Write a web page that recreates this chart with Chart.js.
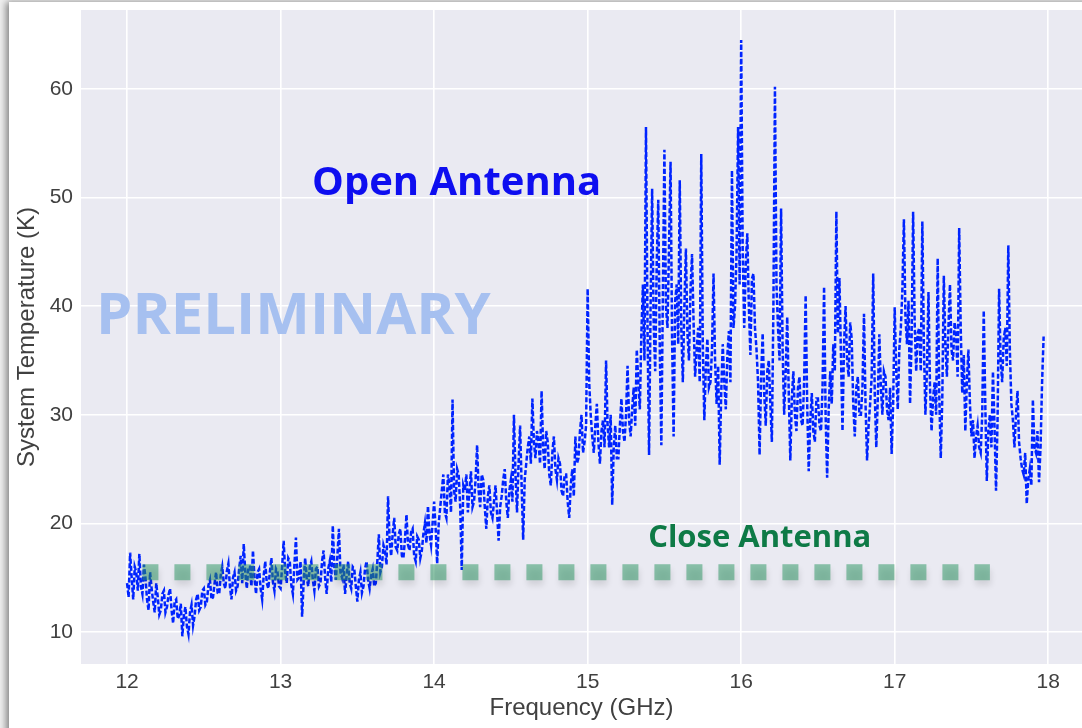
<!DOCTYPE html>
<html><head><meta charset="utf-8">
<script src="https://cdn.jsdelivr.net/npm/chart.js@4.4.1/dist/chart.umd.min.js"></script>
<style>
html,body{margin:0;padding:0;background:#f0f0f0;width:1082px;height:728px;overflow:hidden;}
#panel{position:absolute;left:9px;top:2px;width:1200px;height:800px;background:#fff;box-shadow:-3px 0 7px rgba(0,0,0,0.45);}
#c{position:absolute;left:0;top:0;}
</style></head><body><div id="panel"></div><canvas id="c" width="1082" height="728"></canvas>
<script>
// ---- data ----
const freqGHz = [
12.00,12.01,12.02,12.03,12.04,12.05,12.06,12.07,12.08,12.09,12.10,12.11,12.12,12.13,12.14,12.15,12.16,12.17,12.18,12.19,
12.20,12.21,12.22,12.23,12.24,12.25,12.26,12.27,12.28,12.29,12.30,12.31,12.32,12.33,12.34,12.35,12.36,12.37,12.38,12.39,
12.40,12.41,12.42,12.43,12.44,12.45,12.46,12.47,12.48,12.49,12.50,12.51,12.52,12.53,12.54,12.55,12.56,12.57,12.58,12.59,
12.60,12.61,12.62,12.63,12.64,12.65,12.66,12.67,12.68,12.69,12.70,12.71,12.72,12.73,12.74,12.75,12.76,12.77,12.78,12.79,
12.80,12.81,12.82,12.83,12.84,12.85,12.86,12.87,12.88,12.89,12.90,12.91,12.92,12.93,12.94,12.95,12.96,12.97,12.98,12.99,
13.00,13.01,13.02,13.03,13.04,13.05,13.06,13.07,13.08,13.09,13.10,13.11,13.12,13.13,13.14,13.15,13.16,13.17,13.18,13.19,
13.20,13.21,13.22,13.23,13.24,13.25,13.26,13.27,13.28,13.29,13.30,13.31,13.32,13.33,13.34,13.35,13.36,13.37,13.38,13.39,
13.40,13.41,13.42,13.43,13.44,13.45,13.46,13.47,13.48,13.49,13.50,13.51,13.52,13.53,13.54,13.55,13.56,13.57,13.58,13.59,
13.60,13.61,13.62,13.63,13.64,13.65,13.66,13.67,13.68,13.69,13.70,13.71,13.72,13.73,13.74,13.75,13.76,13.77,13.78,13.79,
13.80,13.81,13.82,13.83,13.84,13.85,13.86,13.87,13.88,13.89,13.90,13.91,13.92,13.93,13.94,13.95,13.96,13.97,13.98,13.99,
14.00,14.01,14.02,14.03,14.04,14.05,14.06,14.07,14.08,14.09,14.10,14.11,14.12,14.13,14.14,14.15,14.16,14.17,14.18,14.19,
14.20,14.21,14.22,14.23,14.24,14.25,14.26,14.27,14.28,14.29,14.30,14.31,14.32,14.33,14.34,14.35,14.36,14.37,14.38,14.39,
14.40,14.41,14.42,14.43,14.44,14.45,14.46,14.47,14.48,14.49,14.50,14.51,14.52,14.53,14.54,14.55,14.56,14.57,14.58,14.59,
14.60,14.61,14.62,14.63,14.64,14.65,14.66,14.67,14.68,14.69,14.70,14.71,14.72,14.73,14.74,14.75,14.76,14.77,14.78,14.79,
14.80,14.81,14.82,14.83,14.84,14.85,14.86,14.87,14.88,14.89,14.90,14.91,14.92,14.93,14.94,14.95,14.96,14.97,14.98,14.99,
15.00,15.01,15.02,15.03,15.04,15.05,15.06,15.07,15.08,15.09,15.10,15.11,15.12,15.13,15.14,15.15,15.16,15.17,15.18,15.19,
15.20,15.21,15.22,15.23,15.24,15.25,15.26,15.27,15.28,15.29,15.30,15.31,15.32,15.33,15.34,15.35,15.36,15.37,15.38,15.39,
15.40,15.41,15.42,15.43,15.44,15.45,15.46,15.47,15.48,15.49,15.50,15.51,15.52,15.53,15.54,15.55,15.56,15.57,15.58,15.59,
15.60,15.61,15.62,15.63,15.64,15.65,15.66,15.67,15.68,15.69,15.70,15.71,15.72,15.73,15.74,15.75,15.76,15.77,15.78,15.79,
15.80,15.81,15.82,15.83,15.84,15.85,15.86,15.87,15.88,15.89,15.90,15.91,15.92,15.93,15.94,15.95,15.96,15.97,15.98,15.99,
16.00,16.01,16.02,16.03,16.04,16.05,16.06,16.07,16.08,16.09,16.10,16.11,16.12,16.13,16.14,16.15,16.16,16.17,16.18,16.19,
16.20,16.21,16.22,16.23,16.24,16.25,16.26,16.27,16.28,16.29,16.30,16.31,16.32,16.33,16.34,16.35,16.36,16.37,16.38,16.39,
16.40,16.41,16.42,16.43,16.44,16.45,16.46,16.47,16.48,16.49,16.50,16.51,16.52,16.53,16.54,16.55,16.56,16.57,16.58,16.59,
16.60,16.61,16.62,16.63,16.64,16.65,16.66,16.67,16.68,16.69,16.70,16.71,16.72,16.73,16.74,16.75,16.76,16.77,16.78,16.79,
16.80,16.81,16.82,16.83,16.84,16.85,16.86,16.87,16.88,16.89,16.90,16.91,16.92,16.93,16.94,16.95,16.96,16.97,16.98,16.99,
17.00,17.01,17.02,17.03,17.04,17.05,17.06,17.07,17.08,17.09,17.10,17.11,17.12,17.13,17.14,17.15,17.16,17.17,17.18,17.19,
17.20,17.21,17.22,17.23,17.24,17.25,17.26,17.27,17.28,17.29,17.30,17.31,17.32,17.33,17.34,17.35,17.36,17.37,17.38,17.39,
17.40,17.41,17.42,17.43,17.44,17.45,17.46,17.47,17.48,17.49,17.50,17.51,17.52,17.53,17.54,17.55,17.56,17.57,17.58,17.59,
17.60,17.61,17.62,17.63,17.64,17.65,17.66,17.67,17.68,17.69,17.70,17.71,17.72,17.73,17.74,17.75,17.76,17.77,17.78,17.79,
17.80,17.81,17.82,17.83,17.84,17.85,17.86,17.87,17.88,17.89,17.90,17.91,17.92,17.93,17.94,17.95,17.96,17.97
];
const openTempK = [
14.5,13.2,17.3,15.0,13.0,16.0,15.5,13.8,17.2,14.2,13.5,16.2,15.0,13.0,12.0,15.5,14.0,12.8,11.8,14.5,
13.2,11.6,12.0,13.5,13.8,11.8,12.3,13.4,14.0,12.0,10.8,12.8,13.0,11.2,11.5,12.6,9.6,11.5,12.3,10.5,
9.8,11.8,12.5,10.6,11.5,13.0,13.5,12.0,12.3,13.8,14.0,12.5,12.8,14.3,14.8,13.0,13.2,14.5,15.5,13.6,
13.5,15.2,16.0,14.5,14.0,15.6,16.3,14.2,13.0,15.0,15.5,13.8,14.2,15.8,17.0,14.5,18.1,15.5,14.0,16.0,
16.0,14.2,17.5,15.0,13.5,15.5,15.8,14.0,13.0,15.2,16.5,14.5,14.0,15.5,16.8,14.6,13.8,15.8,15.5,14.2,
14.0,16.0,18.4,15.5,14.5,16.8,16.5,14.3,13.5,16.2,18.7,14.8,15.0,16.5,11.4,14.5,16.8,15.0,14.2,16.0,
16.5,14.8,13.8,15.8,16.0,14.2,14.5,16.5,17.5,15.0,13.5,15.8,16.5,14.6,19.8,16.0,14.8,17.0,19.5,15.5,
15.0,16.2,13.5,15.2,16.5,14.5,14.0,16.0,15.8,14.2,12.8,14.8,15.5,13.6,14.2,15.8,16.5,14.8,14.0,15.2,
15.8,14.2,14.5,16.5,19.0,15.5,16.0,18.0,17.5,16.2,22.5,18.5,17.0,19.0,20.5,17.8,17.5,19.0,19.5,17.0,
16.8,18.5,20.8,18.0,17.5,19.2,19.5,17.0,16.5,18.8,18.5,16.8,17.5,19.0,20.0,18.2,21.6,19.0,18.0,20.0,
22.0,19.5,16.3,20.0,21.5,23.0,24.5,21.0,20.5,24.5,23.5,21.0,31.4,23.0,22.0,25.0,24.5,21.5,15.7,23.5,
23.0,24.5,21.0,23.0,24.8,21.5,22.0,24.0,27.2,23.0,21.5,24.5,24.0,21.5,19.5,22.5,23.5,21.0,20.5,22.0,
23.5,21.0,18.4,21.5,22.5,24.0,25.0,22.0,20.5,23.0,24.0,22.0,30.0,24.5,21.0,25.5,29.0,23.5,18.5,24.0,
25.5,27.0,28.0,25.5,31.5,27.5,26.0,28.5,27.5,25.5,32.2,27.0,25.0,28.5,27.5,24.5,23.5,26.5,28.0,25.0,
24.0,26.0,25.5,23.0,22.5,24.5,24.5,22.0,20.5,23.5,25.0,22.5,28.0,25.5,26.0,28.5,30.0,26.5,27.5,29.0,
41.6,33.0,30.0,28.0,26.5,29.0,31.0,27.5,25.5,28.5,29.5,27.0,35.0,29.0,27.0,30.0,21.7,27.0,29.0,26.0,
26.0,29.0,31.5,28.5,27.5,30.0,34.5,29.5,28.0,30.5,32.5,29.0,36.0,33.0,30.5,37.5,42.0,35.0,56.5,38.0,
26.3,40.0,50.8,38.5,34.0,44.0,49.8,36.0,27.2,41.0,54.4,40.0,38.0,45.5,53.3,37.0,28.0,40.5,42.0,36.5,
51.6,38.0,33.0,40.0,45.3,37.5,35.0,41.5,44.8,38.5,33.5,36.0,38.0,33.0,54.0,36.5,29.5,34.5,37.0,32.5,
33.0,36.0,43.0,35.0,31.0,34.5,25.4,32.0,36.5,33.0,30.5,35.5,37.7,33.0,52.5,38.0,40.0,45.0,56.5,42.0,
64.5,45.0,38.0,44.0,46.7,40.0,35.5,42.5,43.0,38.0,36.0,33.0,26.3,33.5,37.5,32.0,29.0,34.0,35.0,31.0,
27.5,40.0,60.2,42.0,38.0,35.0,49.0,36.0,30.0,34.0,39.0,32.0,25.8,31.5,34.0,30.0,28.5,32.5,33.5,29.5,
29.0,33.0,41.0,31.0,24.8,29.5,32.0,28.5,27.5,31.5,31.5,29.0,28.5,32.5,41.8,30.0,24.2,30.5,34.0,31.0,
36.5,34.0,48.7,37.5,42.6,35.5,28.5,36.5,40.0,35.0,33.5,38.5,37.0,31.0,28.0,32.5,33.5,30.0,30.0,32.5,
39.3,31.0,25.8,29.0,31.0,33.5,43.0,32.0,27.0,31.5,37.4,32.5,30.0,34.0,33.5,30.5,29.5,32.5,26.4,31.0,
39.9,34.0,30.5,36.0,38.0,41.5,48.0,39.0,36.5,40.5,31.0,37.0,48.7,38.5,34.0,37.5,38.0,34.0,47.8,36.5,
30.0,34.0,41.3,32.5,28.5,31.5,33.0,30.0,44.4,32.0,26.0,31.5,42.8,36.5,33.5,38.0,42.0,36.0,35.0,38.5,
37.5,33.5,47.2,38.0,32.0,35.5,28.5,33.0,36.0,31.0,28.0,29.5,26.0,28.0,29.0,27.0,26.5,30.0,39.6,31.0,
23.9,28.5,30.0,27.0,34.0,29.0,23.0,29.5,41.6,35.0,33.0,37.0,38.0,34.5,45.6,36.0,31.0,29.5,27.0,30.0,
32.2,27.5,26.0,25.0,24.5,26.5,21.8,24.0,25.0,23.5,31.4,27.0,26.5,28.5,23.8,27.0,33.0,37.2
];
const closeFreqGHz = [12.1, 17.62];
const closeTempK = [15.5, 15.5];
const xTicks = [12, 13, 14, 15, 16, 17, 18];
const yTicks = [10, 20, 30, 40, 50, 60];

// ---- annotations (data coordinates) ----
const notes = [
  {text: 'Open Antenna', x: 13.205, y: 50.24, font: 'bold 40px "Open Sans"', color: 'rgb(14,14,240)'},
  {text: 'Close Antenna', x: 15.394, y: 17.83, font: 'bold 31px "Open Sans"', color: '#0E7A46'},
  {text: 'PRELIMINARY', x: 11.798, y: 37.44, font: 'bold 58px "Open Sans"', color: '#A6C0F0'}
];

const openData = freqGHz.map((f, i) => ({x: f, y: openTempK[i]}));
const closeData = closeFreqGHz.map((f, i) => ({x: f, y: closeTempK[i]}));

const bgPlugin = {
  id: 'bg',
  beforeDraw(chart) {
    const {ctx, chartArea: a} = chart;
    ctx.save();
    ctx.fillStyle = '#EAEAF2';
    ctx.fillRect(a.left, a.top, a.right - a.left, a.bottom - a.top);
    ctx.restore();
  }
};
// draws only the drop shadow of the "Close Antenna" line (the line itself is moved off-canvas)
const shadowPlugin = {
  id: 'shadow',
  beforeDatasetDraw(chart, args) {
    if (chart.data.datasets[args.index].label !== 'Close Antenna') return;
    const ctx = chart.ctx;
    ctx.save();
    ctx.translate(0, -3000);
    ctx.shadowColor = 'rgba(0,0,0,0.22)';
    ctx.shadowBlur = 6;
    ctx.shadowOffsetX = 1;
    ctx.shadowOffsetY = 3005;
    args.meta.controller.draw();
    ctx.restore();
  }
};
const notePlugin = {
  id: 'notes',
  afterDatasetsDraw(chart) {
    const {ctx, scales: {x, y}} = chart;
    ctx.save();
    ctx.textAlign = 'left';
    ctx.textBaseline = 'alphabetic';
    notes.forEach(n => {
      ctx.font = n.font;
      ctx.fillStyle = n.color;
      ctx.fillText(n.text, x.getPixelForValue(n.x), y.getPixelForValue(n.y));
    });
    ctx.restore();
  }
};

Chart.defaults.font.family = '"Liberation Sans", Arial, sans-serif';
const tickFont = {size: 21};
const titleFont = {size: 24};
const axisColor = '#404040';

new Chart(document.getElementById('c'), {
  type: 'line',
  data: {
    datasets: [
      {label: 'Close Antenna', data: closeData, order: 0, clip: false,
       borderColor: 'rgba(40,150,95,0.5)', borderWidth: 16, borderDash: [16, 16],
       borderCapStyle: 'butt', pointRadius: 0, fill: false},
      {label: 'Open Antenna', data: openData, order: 1,
       borderColor: 'rgb(0,36,255)', borderWidth: 2.5, borderDash: [5, 2.2],
       pointRadius: 0, tension: 0, fill: false}
    ]
  },
  options: {
    responsive: false,
    devicePixelRatio: 1,
    animation: false,
    layout: {padding: {top: 10, right: 0, left: 0, bottom: 0}},
    plugins: {legend: {display: false}, tooltip: {enabled: false}},
    scales: {
      x: {
        type: 'linear', min: 11.7, max: 18.22,
        afterBuildTicks: s => { s.ticks = xTicks.map(v => ({value: v})); },
        afterFit: s => { s.height = 64; s.paddingLeft = 0; s.paddingRight = 0; },
        grid: {color: '#FFFFFF', lineWidth: 1.6, drawTicks: false},
        border: {display: false},
        ticks: {color: axisColor, font: tickFont, padding: 6, maxRotation: 0},
        title: {display: true, text: 'Frequency (GHz)', color: axisColor, font: titleFont, padding: {top: 0, bottom: 5}}
      },
      y: {
        type: 'linear', min: 7.05, max: 67.27,
        afterBuildTicks: s => { s.ticks = yTicks.map(v => ({value: v})); },
        afterFit: s => { s.width = 81; s.paddingTop = 0; s.paddingBottom = 0; },
        grid: {color: '#FFFFFF', lineWidth: 1.6, drawTicks: false},
        border: {display: false},
        ticks: {color: axisColor, font: tickFont, padding: 8},
        title: {display: true, text: 'System Temperature (K)', color: axisColor, font: titleFont, padding: {top: 12.6, bottom: 0}}
      }
    }
  },
  plugins: [bgPlugin, shadowPlugin, notePlugin]
});
</script></body></html>
